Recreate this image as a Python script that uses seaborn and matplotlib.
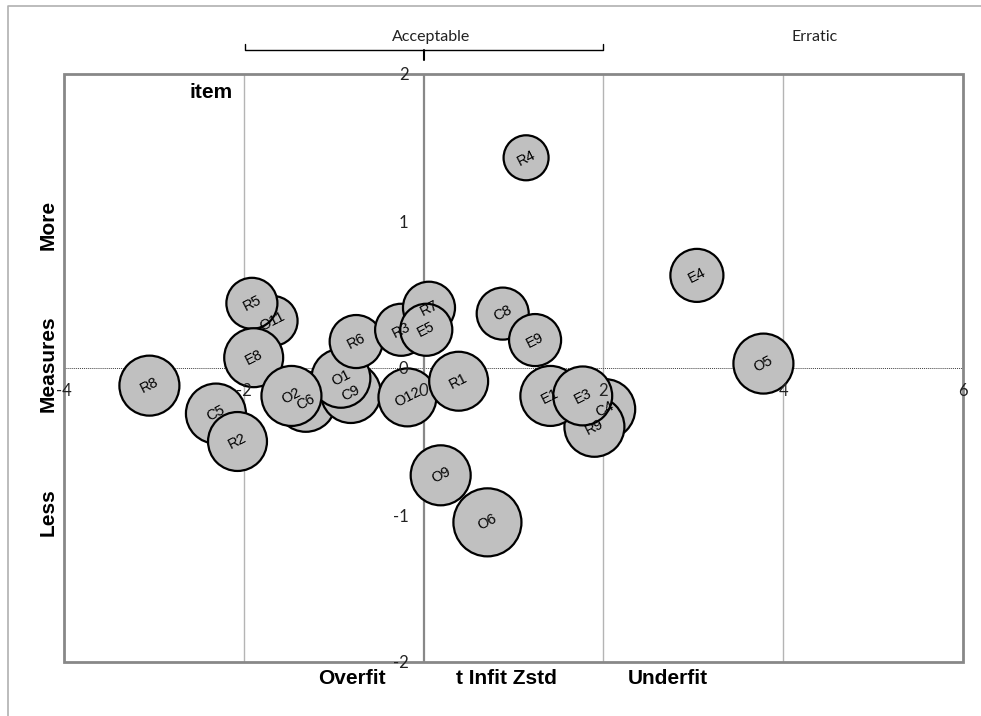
import numpy as np
import pandas as pd
import seaborn as sns
import matplotlib.pyplot as plt
from matplotlib.lines import Line2D
from matplotlib.patches import Rectangle

sns.set_style("white")
plt.rcParams["axes.unicode_minus"] = False

# item bubbles, in drawing order (later ones sit on top)
items = ["R8", "C5", "R2", "O11", "R5", "E8", "C6", "C9", "O1", "O2",
         "R6", "R3", "R7", "E5", "O12", "R1", "C8", "E9", "R4", "C4",
         "R9", "E1", "E3", "E4", "O5", "O9", "O6"]
infit = [-3.05, -2.31, -2.07, -1.68, -1.91, -1.89, -1.31, -0.81, -0.92, -1.47,
         -0.75, -0.25, 0.06, 0.03, -0.18, 0.39, 0.88, 1.24, 1.14, 2.02,
         1.90, 1.41, 1.77, 3.04, 3.78, 0.19, 0.71]
measure = [-0.12, -0.31, -0.50, 0.32, 0.44, 0.07, -0.23, -0.17, -0.07, -0.19,
           0.18, 0.26, 0.41, 0.26, -0.20, -0.09, 0.37, 0.19, 1.43, -0.28,
           -0.40, -0.19, -0.19, 0.63, 0.03, -0.73, -1.05]
se = [0.311, 0.311, 0.30, 0.216, 0.225, 0.30, 0.311, 0.311, 0.30, 0.311,
      0.243, 0.234, 0.234, 0.234, 0.29, 0.30, 0.234, 0.234, 0.175, 0.311,
      0.311, 0.311, 0.30, 0.243, 0.311, 0.311, 0.40]

xticks = [-4, -2, 0, 2, 4, 6]
yticks = [-2, -1, 0, 1, 2]

df = pd.DataFrame({"item": items, "infit": infit, "measure": measure, "se": se})

fig = plt.figure(figsize=(9.81, 7.16), dpi=100)
ax = fig.add_axes([64 / 981, 54 / 716, 899 / 981, 588 / 716])

# grid and axis lines sit behind the bubbles
for gx in (-2, 2, 4):
    ax.axvline(gx, color="#b4b4b4", lw=1, zorder=0.3)
ax.axhline(0, color="#404040", lw=0.7, ls=(0, (1, 1)), zorder=0.4)
ax.axvline(0, color="#888888", lw=1.6, zorder=0.4)

sns.scatterplot(data=df, x="infit", y="measure", size="se",
                sizes=(0, 2400), size_norm=(0, 0.40),
                color="#c0c0c0", edgecolor="black", linewidth=1.6,
                legend=False, ax=ax, zorder=2)

for name, xv, yv in zip(items, infit, measure):
    ax.text(xv, yv, name, rotation=27, rotation_mode="anchor",
            ha="center", va="center", fontsize=10.5,
            family="Liberation Sans", color="black", zorder=5)

ax.set_xlim(-4, 6)
ax.set_ylim(-2, 2)
ax.set_xticks(xticks)
ax.set_yticks(yticks)
ax.set_xlabel("")
ax.set_ylabel("")
ax.set_axisbelow(False)

# tick labels cross at the origin, on top of the bubbles
ax.spines["bottom"].set_position(("data", 0))
ax.spines["left"].set_position(("data", 0))
for s in ("top", "right", "bottom", "left"):
    ax.spines[s].set_visible(False)
ax.add_patch(Rectangle((0, 0), 1, 1, transform=ax.transAxes, fill=False,
                       edgecolor="#888888", lw=2, zorder=1, clip_on=False))

ax.tick_params(axis="x", direction="out", length=0, pad=11,
               labelsize=12, labelcolor="#222222")
ax.tick_params(axis="y", direction="out", length=4, pad=7, width=1,
               color="#888888", labelsize=12, labelcolor="#222222")
for lab in ax.get_xticklabels() + ax.get_yticklabels():
    lab.set_family("Lato")

# axis titles
bold = dict(fontsize=15, fontweight="bold", family="Liberation Sans",
            ha="center", va="center", color="black")
fig.text(352 / 981, 1 - 679 / 716, "Overfit", **bold)
fig.text(506 / 981, 1 - 679 / 716, "t Infit Zstd", **bold)
fig.text(668 / 981, 1 - 679 / 716, "Underfit", **bold)
fig.text(48 / 981, 1 - 225 / 716, "More", rotation=90, **bold)
fig.text(48 / 981, 1 - 364 / 716, "Measures", rotation=90, **bold)
fig.text(48 / 981, 1 - 512 / 716, "Less", rotation=90, **bold)
fig.text(211 / 981, 1 - 92 / 716, "item", **bold)

# bracket for the acceptable range
fig.text(431 / 981, 1 - 37 / 716, "Acceptable", fontsize=11.5, family="Lato",
         ha="center", va="center", color="#222222")
fig.text(815 / 981, 1 - 37 / 716, "Erratic", fontsize=11.5, family="Lato",
         ha="center", va="center", color="#222222")
bx = [245 / 981, 245 / 981, 603 / 981, 603 / 981]
by = [1 - 44 / 716, 1 - 50 / 716, 1 - 50 / 716, 1 - 44 / 716]
fig.add_artist(Line2D(bx, by, color="black", lw=1))
fig.add_artist(Line2D([424 / 981, 424 / 981], [1 - 50 / 716, 1 - 60 / 716],
                      color="black", lw=1.5))

# chart area border (cropped)
fig.add_artist(Line2D([7.5 / 981, 7.5 / 981, 1], [0, 1 - 5.5 / 716, 1 - 5.5 / 716],
                      color="#b0b0b0", lw=1.2))

fig.savefig("out.png", dpi=100)
